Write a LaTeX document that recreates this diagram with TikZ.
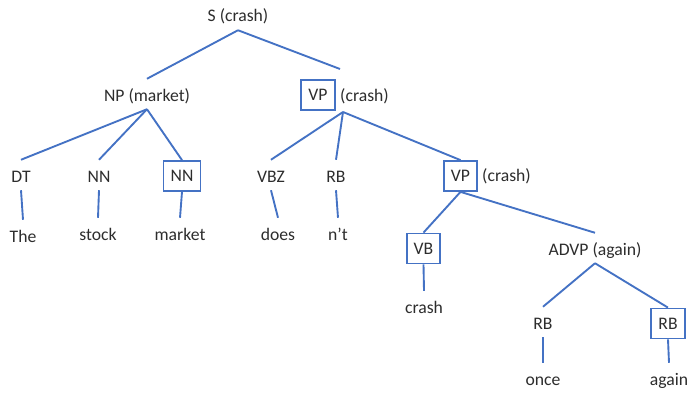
\documentclass[tikz,border=0pt]{standalone}
\usepackage{fontspec}
\setmainfont{Carlito}
\definecolor{treeblue}{RGB}{68,114,196}
\definecolor{treetext}{RGB}{45,45,45}

\begin{document}
\begin{tikzpicture}[x=0.85pt, y=-0.85pt,
  tag/.style={inner sep=0pt, text height=18.7pt, text depth=6.8pt, anchor=base,
    text=treetext, font=\fontsize{15}{17}\selectfont},
  headbox/.style={draw=treeblue, line width=1.5pt, inner xsep=6pt, inner ysep=0pt,
    minimum height=25.5pt, text=treetext, font=\fontsize{15}{17}\selectfont},
  edge/.style={treeblue, line width=1.6pt}]
  \useasboundingbox (0,0) rectangle (688,394);

  % Phrases
  \node[tag] (s) at (238,22) {S (crash)};
  \node[tag] (np) at (147,101) {NP (market)};
  \node[headbox] (vp1) at (318,95) {VP};
  \node[tag, anchor=base west] (vp1w) at (340,101) {(crash)};
  \node[headbox] (vp2) at (460.5,176) {VP};
  \node[tag, anchor=base west] (vp2w) at (482,181) {(crash)};
  \node[tag] (advp) at (595,255) {ADVP (again)};

  % POS tags
  \node[tag] (dt) at (21,182) {DT};
  \node[tag] (nn1) at (99,182) {NN};
  \node[headbox] (nn2) at (182,176) {NN};
  \node[tag] (vbz) at (271,182) {VBZ};
  \node[tag] (rb1) at (336,182) {RB};
  \node[headbox] (vb) at (423.5,248.5) {VB};
  \node[tag] (rb2) at (543,329) {RB};
  \node[headbox] (rb3) at (668,323.5) {RB};

  % Words
  \node[tag] (the) at (23,242) {The};
  \node[tag] (stock) at (98,240) {stock};
  \node[tag] (market) at (180,240) {market};
  \node[tag] (does) at (278,240) {does};
  \node[tag] (nt) at (338,240) {n’t};
  \node[tag] (crash) at (424,313) {crash};
  \node[tag] (once) at (543,385) {once};
  \node[tag] (again) at (669,385) {again};

  % Joints of the upper VP
  \coordinate (vp1top) at (340,69);
  \coordinate (vp1bot) at (343,112);

  % Branches
  \draw[edge] (s.south) -- (np.north);
  \draw[edge] (s.south) -- (vp1top);
  \foreach \c in {dt, nn1, nn2}
    \draw[edge] (np.south) -- (\c.north);
  \foreach \c in {vbz, rb1, vp2}
    \draw[edge] (vp1bot) -- (\c.north);
  \draw[edge] (vp2.south) -- (vb.north);
  \draw[edge] (vp2.south) -- (advp.north);
  \draw[edge] (advp.south) -- (rb2.north);
  \draw[edge] (advp.south) -- (rb3.north);

  % Leaves
  \foreach \p/\w in {dt/the, nn1/stock, nn2/market, vbz/does, rb1/nt, vb/crash, rb2/once, rb3/again}
    \draw[edge] (\p.south) -- (\w.north);
\end{tikzpicture}
\end{document}
